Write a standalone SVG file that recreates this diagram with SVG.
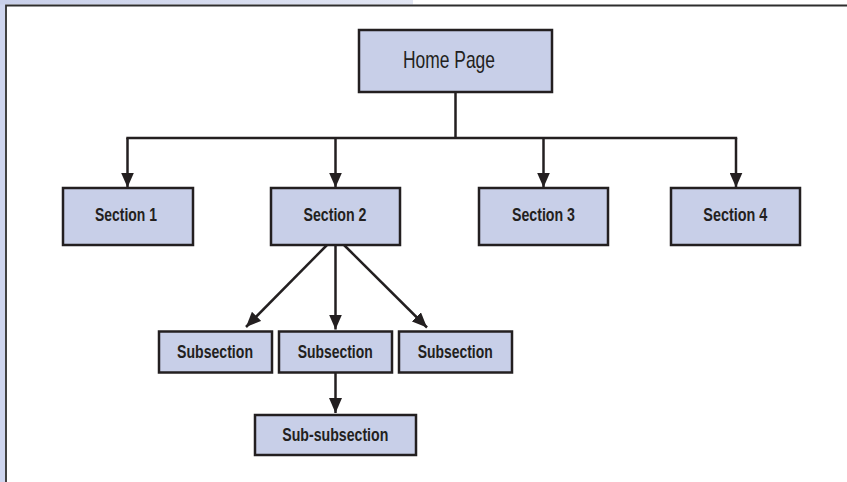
<svg xmlns="http://www.w3.org/2000/svg" width="847" height="482" viewBox="0 0 847 482">
<defs>
<linearGradient id="topband" x1="0" y1="0" x2="1" y2="0">
<stop offset="0" stop-color="#c9d0ea"/>
<stop offset="1" stop-color="#e2e6f3"/>
</linearGradient>
<marker id="arr" markerUnits="userSpaceOnUse" markerWidth="16" markerHeight="13" refX="15" refY="6.5" orient="auto">
<path d="M0,0 L15,6.5 L0,13 z" fill="#231f20"/>
</marker>
<style>
.box{fill:#c8cfe8;stroke:#231f20;stroke-width:2.5}
.lbl{font-family:"Liberation Sans",Arial,sans-serif;font-weight:bold;font-size:18px;fill:#231f20;text-anchor:middle}
.home{font-family:"Liberation Sans",Arial,sans-serif;font-size:24px;fill:#231f20;text-anchor:middle}
.conn{stroke:#231f20;stroke-width:2.5;fill:none}
</style>
</defs>
<rect x="0" y="0" width="847" height="482" fill="#ffffff"/>
<rect x="0" y="0" width="5" height="482" fill="#cfd6ef"/>
<rect x="0" y="0" width="413" height="4.5" fill="url(#topband)"/>
<path d="M6,482 V5.5 H847" fill="none" stroke="#2e2e2e" stroke-width="1.8"/>
<g id="connectors">
<path class="conn" d="M455.5,92 V138 M126.3,138 H737.2"/>
<line class="conn" x1="127.5" y1="138" x2="127.5" y2="187.5" marker-end="url(#arr)"/>
<line class="conn" x1="335.5" y1="138" x2="335.5" y2="187.5" marker-end="url(#arr)"/>
<line class="conn" x1="543.5" y1="138" x2="543.5" y2="187.5" marker-end="url(#arr)"/>
<line class="conn" x1="736" y1="138" x2="736" y2="187.5" marker-end="url(#arr)"/>
<line class="conn" x1="327" y1="245" x2="246" y2="327" marker-end="url(#arr)"/>
<line class="conn" x1="335.5" y1="245" x2="335.5" y2="329.5" marker-end="url(#arr)"/>
<line class="conn" x1="344" y1="245" x2="427" y2="327.5" marker-end="url(#arr)"/>
<line class="conn" x1="335.5" y1="373" x2="335.5" y2="413" marker-end="url(#arr)"/>
</g>
<g id="home">
<rect class="box" x="359" y="30" width="193" height="62"/>
<text class="home" x="449" y="67.5" textLength="92" lengthAdjust="spacingAndGlyphs">Home Page</text>
</g>
<g id="section1">
<rect class="box" x="63" y="188" width="130" height="57"/>
<text class="lbl" x="126" y="220.5" textLength="62" lengthAdjust="spacingAndGlyphs">Section 1</text>
</g>
<g id="section2">
<rect class="box" x="271" y="188" width="129" height="57"/>
<text class="lbl" x="335" y="220.5" textLength="63" lengthAdjust="spacingAndGlyphs">Section 2</text>
</g>
<g id="section3">
<rect class="box" x="479" y="188" width="129" height="57"/>
<text class="lbl" x="543.5" y="220.5" textLength="63" lengthAdjust="spacingAndGlyphs">Section 3</text>
</g>
<g id="section4">
<rect class="box" x="671" y="188" width="129" height="57"/>
<text class="lbl" x="735.3" y="220.5" textLength="64" lengthAdjust="spacingAndGlyphs">Section 4</text>
</g>
<g id="sub1">
<rect class="box" x="159" y="331.5" width="113" height="41"/>
<text class="lbl" x="215" y="357.5" textLength="76" lengthAdjust="spacingAndGlyphs">Subsection</text>
</g>
<g id="sub2">
<rect class="box" x="279" y="331.5" width="113" height="41"/>
<text class="lbl" x="335.2" y="357.5" textLength="75" lengthAdjust="spacingAndGlyphs">Subsection</text>
</g>
<g id="sub3">
<rect class="box" x="399" y="331.5" width="113" height="41"/>
<text class="lbl" x="455.2" y="357.5" textLength="75" lengthAdjust="spacingAndGlyphs">Subsection</text>
</g>
<g id="subsub">
<rect class="box" x="255" y="415" width="161" height="40"/>
<text class="lbl" x="335.3" y="440.5" textLength="106" lengthAdjust="spacingAndGlyphs">Sub-subsection</text>
</g>
</svg>
